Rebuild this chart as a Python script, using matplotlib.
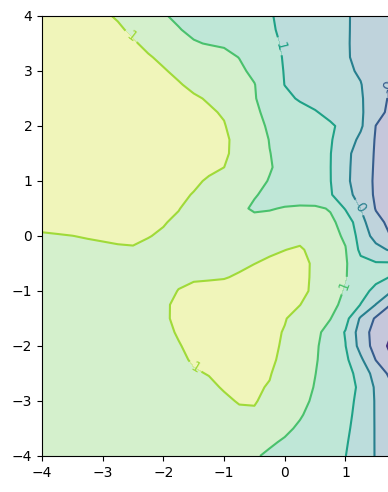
import numpy as np
import matplotlib
matplotlib.use("Agg")
import matplotlib.pyplot as plt

x_vals = np.arange(-4.0, 2.01, 0.25)
y_vals = np.arange(4.0, -4.01, -0.25)

# field values, one row per y (top row first), one column per x
z_rows = [
    [1.60, 1.56, 1.52, 1.475, 1.43, 1.38, 1.26, 1.14, 1.02, 0.955, 0.90, 0.84, 0.79, 0.73, 0.67, 0.62, 0.54, 0.46, 0.38, 0.30, 0.23, 0.13, 0.02, -0.09, -0.20],
    [1.65, 1.606, 1.56, 1.52, 1.474, 1.43, 1.363, 1.246, 1.13, 1.014, 0.944, 0.88, 0.82, 0.755, 0.69, 0.63, 0.555, 0.47, 0.39, 0.31, 0.23, 0.127, 0.014, -0.10, -0.21],
    [1.68, 1.637, 1.595, 1.55, 1.51, 1.467, 1.424, 1.352, 1.242, 1.132, 1.022, 0.985, 0.967, 0.893, 0.78, 0.668, 0.566, 0.482, 0.398, 0.314, 0.23, 0.121, -0.002, -0.126, -0.25],
    [1.70, 1.66, 1.62, 1.58, 1.54, 1.50, 1.458, 1.418, 1.359, 1.287, 1.214, 1.142, 1.07, 0.994, 0.849, 0.704, 0.576, 0.49, 0.405, 0.32, 0.234, 0.12, -0.013, -0.147, -0.28],
    [1.72, 1.682, 1.644, 1.606, 1.568, 1.53, 1.493, 1.455, 1.417, 1.357, 1.281, 1.205, 1.128, 1.052, 0.94, 0.751, 0.584, 0.503, 0.422, 0.342, 0.261, 0.159, -0.01, -0.18, -0.32],
    [1.73, 1.695, 1.66, 1.625, 1.59, 1.556, 1.521, 1.486, 1.452, 1.417, 1.355, 1.269, 1.183, 1.097, 1.01, 0.804, 0.594, 0.518, 0.442, 0.367, 0.291, 0.215, -0.005, -0.229, -0.35],
    [1.74, 1.709, 1.677, 1.646, 1.615, 1.583, 1.552, 1.52, 1.489, 1.458, 1.426, 1.381, 1.26, 1.14, 1.019, 0.858, 0.688, 0.561, 0.481, 0.40, 0.319, 0.239, -0.008, -0.262, -0.38],
    [1.75, 1.72, 1.691, 1.662, 1.632, 1.603, 1.573, 1.544, 1.514, 1.485, 1.455, 1.426, 1.38, 1.213, 1.047, 0.927, 0.826, 0.725, 0.624, 0.506, 0.383, 0.259, -0.074, -0.286, -0.40],
    [1.75, 1.722, 1.694, 1.666, 1.638, 1.61, 1.582, 1.554, 1.526, 1.498, 1.47, 1.442, 1.413, 1.296, 1.096, 0.959, 0.881, 0.803, 0.725, 0.647, 0.502, 0.259, -0.205, -0.31, -0.42],
    [1.74, 1.713, 1.687, 1.66, 1.634, 1.607, 1.581, 1.554, 1.528, 1.501, 1.474, 1.448, 1.421, 1.362, 1.169, 0.989, 0.899, 0.809, 0.719, 0.629, 0.416, 0.113, -0.231, -0.34, -0.45],
    [1.73, 1.704, 1.678, 1.652, 1.626, 1.601, 1.575, 1.549, 1.523, 1.497, 1.471, 1.445, 1.42, 1.358, 1.182, 1.007, 0.906, 0.808, 0.71, 0.612, 0.316, 0.006, -0.234, -0.34, -0.45],
    [1.72, 1.693, 1.667, 1.64, 1.614, 1.587, 1.56, 1.534, 1.507, 1.48, 1.454, 1.428, 1.401, 1.277, 1.149, 1.021, 0.914, 0.812, 0.71, 0.608, 0.303, -0.013, -0.242, -0.346, -0.45],
    [1.70, 1.672, 1.645, 1.617, 1.59, 1.562, 1.534, 1.507, 1.479, 1.452, 1.423, 1.384, 1.284, 1.184, 1.084, 0.985, 0.892, 0.798, 0.705, 0.611, 0.297, -0.032, -0.248, -0.349, -0.45],
    [1.68, 1.652, 1.624, 1.596, 1.567, 1.539, 1.511, 1.483, 1.454, 1.426, 1.393, 1.299, 1.206, 1.112, 1.019, 0.938, 0.862, 0.785, 0.708, 0.631, 0.378, 0.005, -0.248, -0.35, -0.45],
    [1.66, 1.632, 1.604, 1.576, 1.548, 1.52, 1.492, 1.464, 1.436, 1.408, 1.334, 1.243, 1.151, 1.06, 0.96, 0.98, 1.02, 1.06, 1.07, 0.97, 0.57, 0.195, -0.22, -0.32, -0.42],
    [1.48, 1.485, 1.49, 1.495, 1.50, 1.48, 1.46, 1.436, 1.412, 1.366, 1.30, 1.25, 1.20, 1.15, 1.10, 1.11, 1.12, 1.15, 1.12, 1.08, 0.85, 0.345, -0.096, -0.286, -0.40],
    [1.37, 1.385, 1.398, 1.415, 1.43, 1.43, 1.423, 1.407, 1.377, 1.338, 1.30, 1.25, 1.20, 1.175, 1.15, 1.20, 1.25, 1.30, 1.22, 1.10, 0.956, 0.436, 0.059, -0.21, -0.30],
    [1.30, 1.314, 1.327, 1.341, 1.355, 1.38, 1.39, 1.36, 1.32, 1.29, 1.26, 1.255, 1.25, 1.275, 1.30, 1.35, 1.395, 1.44, 1.30, 1.15, 1.016, 0.52, 0.325, 0.15, 0.0],
    [1.28, 1.2875, 1.295, 1.3025, 1.31, 1.32, 1.33, 1.315, 1.30, 1.285, 1.27, 1.285, 1.30, 1.348, 1.396, 1.45, 1.50, 1.48, 1.356, 1.20, 1.039, 0.70, 0.63, 0.64, 0.66],
    [1.27, 1.272, 1.273, 1.275, 1.277, 1.278, 1.28, 1.29, 1.30, 1.35, 1.37, 1.375, 1.385, 1.43, 1.50, 1.51, 1.52, 1.48, 1.352, 1.18, 1.019, 0.80, 0.70, 0.584, 0.45],
    [1.26, 1.262, 1.263, 1.265, 1.267, 1.268, 1.27, 1.295, 1.32, 1.408, 1.46, 1.48, 1.50, 1.525, 1.55, 1.54, 1.53, 1.47, 1.345, 1.15, 0.97, 0.731, 0.502, 0.23, 0.0],
    [1.25, 1.252, 1.253, 1.255, 1.257, 1.258, 1.26, 1.293, 1.37, 1.439, 1.50, 1.535, 1.57, 1.575, 1.58, 1.55, 1.52, 1.405, 1.255, 1.103, 0.903, 0.59, 0.19, -0.21, -0.50],
    [1.24, 1.242, 1.243, 1.245, 1.247, 1.248, 1.25, 1.292, 1.367, 1.445, 1.52, 1.56, 1.60, 1.585, 1.57, 1.50, 1.417, 1.286, 1.146, 1.011, 0.729, 0.148, -0.25, -0.50, -0.65],
    [1.23, 1.232, 1.233, 1.235, 1.237, 1.238, 1.24, 1.29, 1.348, 1.419, 1.50, 1.55, 1.60, 1.575, 1.55, 1.47, 1.382, 1.23, 1.082, 0.874, 0.575, 0.018, -0.37, -0.575, -0.75],
    [1.22, 1.222, 1.223, 1.225, 1.227, 1.228, 1.23, 1.275, 1.32, 1.387, 1.453, 1.52, 1.545, 1.57, 1.535, 1.466, 1.361, 1.20, 1.048, 0.842, 0.609, 0.061, -0.36, -0.686, -0.90],
    [1.21, 1.212, 1.213, 1.215, 1.217, 1.218, 1.22, 1.262, 1.303, 1.359, 1.423, 1.487, 1.52, 1.545, 1.521, 1.457, 1.325, 1.171, 1.029, 0.857, 0.679, 0.271, -0.21, -0.557, -0.80],
    [1.20, 1.202, 1.203, 1.205, 1.207, 1.208, 1.21, 1.24, 1.27, 1.30, 1.38, 1.408, 1.47, 1.489, 1.476, 1.416, 1.29, 1.144, 1.006, 0.861, 0.716, 0.489, 0.022, -0.286, -0.50],
    [1.20, 1.20, 1.20, 1.20, 1.20, 1.20, 1.20, 1.225, 1.25, 1.275, 1.30, 1.364, 1.416, 1.455, 1.431, 1.384, 1.253, 1.119, 0.984, 0.851, 0.717, 0.548, 0.143, -0.143, -0.35],
    [1.19, 1.191, 1.193, 1.194, 1.195, 1.196, 1.198, 1.199, 1.20, 1.233, 1.267, 1.30, 1.367, 1.414, 1.416, 1.338, 1.22, 1.083, 0.95, 0.825, 0.70, 0.52, 0.164, -0.018, -0.20],
    [1.18, 1.181, 1.183, 1.184, 1.185, 1.186, 1.188, 1.189, 1.19, 1.22, 1.25, 1.275, 1.30, 1.36, 1.37, 1.28, 1.15, 1.025, 0.909, 0.795, 0.682, 0.496, 0.168, 0.009, -0.15],
    [1.17, 1.171, 1.173, 1.174, 1.175, 1.176, 1.178, 1.179, 1.18, 1.198, 1.215, 1.233, 1.25, 1.235, 1.22, 1.135, 1.051, 0.96, 0.86, 0.76, 0.66, 0.467, 0.173, 0.036, -0.10],
    [1.16, 1.161, 1.163, 1.164, 1.165, 1.166, 1.168, 1.169, 1.17, 1.178, 1.185, 1.193, 1.20, 1.145, 1.09, 1.034, 0.969, 0.885, 0.801, 0.717, 0.634, 0.429, 0.177, 0.064, -0.05],
    [1.15, 1.151, 1.153, 1.154, 1.155, 1.156, 1.158, 1.159, 1.16, 1.158, 1.155, 1.153, 1.15, 1.088, 1.025, 0.958, 0.887, 0.817, 0.746, 0.676, 0.606, 0.386, 0.182, 0.091, 0.0],
]

levels = [-1.0, -0.6, -0.2, 0.2, 0.6, 1.0, 1.4, 1.8]

# where the contour labels sit in the reference (data coordinates)
label_spots = [(-2.5, 3.69), (-1.45, -2.3), (0.96, -0.89),
               (-0.12, 3.44), (1.24, 0.53), (1.72, 2.72)]

Z = np.flipud(np.array(z_rows))
X, Y = np.meshgrid(x_vals, y_vals[::-1])

fig = plt.figure(figsize=(3.88, 4.92), dpi=100)
# the axes run past the right edge of the figure, as in the reference
ax = fig.add_axes([0.1082, 0.0732, 1.2515, 0.8943])

ax.contourf(X, Y, Z, levels=levels, cmap="viridis", alpha=0.3)
cs = ax.contour(X, Y, Z, levels=levels, cmap="viridis")
ax.clabel(cs, fmt="%1.0f", fontsize=10, manual=label_spots)

ax.set_xlim(-4, 4)
ax.set_ylim(-4, 4)
ax.set_xticks(np.arange(-4, 5, 1))
ax.set_yticks(np.arange(-4, 5, 1))

fig.savefig("out.png", dpi=100)
